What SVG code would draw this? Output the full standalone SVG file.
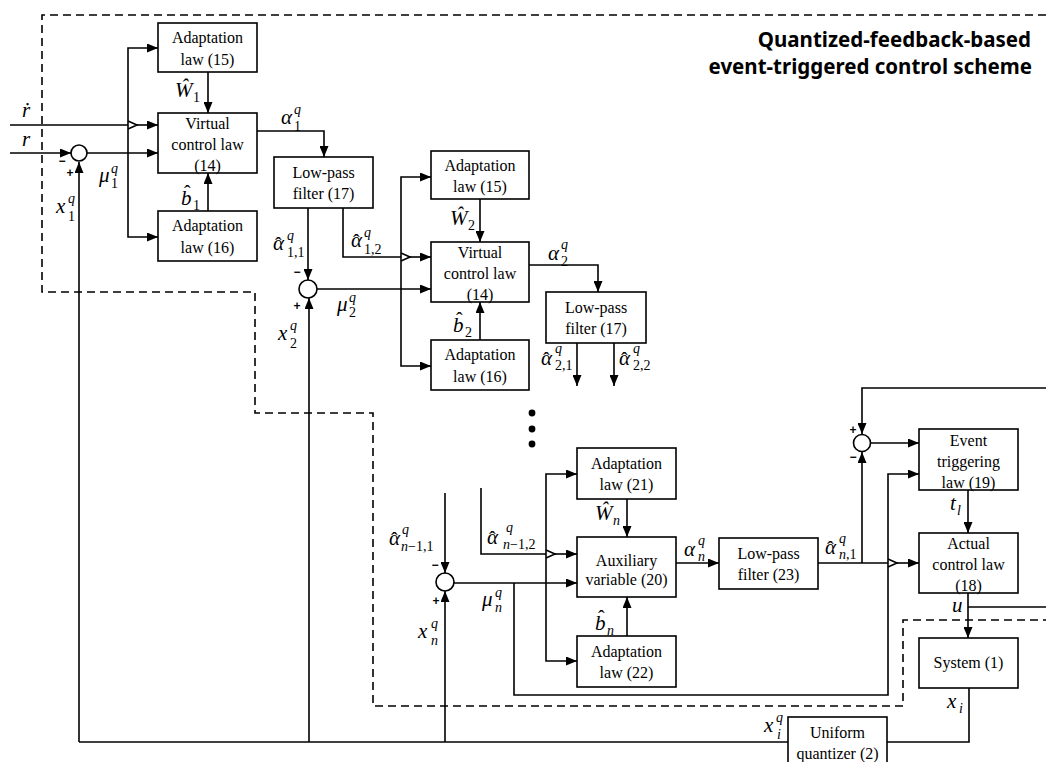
<svg xmlns="http://www.w3.org/2000/svg" width="1046" height="762" viewBox="0 0 1046 762">
<style>
.box{fill:#fff;stroke:#000;stroke-width:1.6}
.bt{font-family:"Liberation Serif","Times New Roman",serif;font-size:16px;text-anchor:middle;fill:#000}
.ln{fill:none;stroke:#000;stroke-width:1.6}
.dash{fill:none;stroke:#000;stroke-width:1.6;stroke-dasharray:8 5}
.sum{fill:#fff;stroke:#000;stroke-width:1.6}
.m{font-family:"Liberation Serif","Times New Roman",serif;font-style:italic;font-size:21px;fill:#000}
.h{font-style:normal;font-size:20px}
.sp{font-style:italic;font-size:14px}
.sb{font-style:normal;font-size:14px}
.sbi{font-style:italic;font-size:14px}
.sg{font-family:"Liberation Sans",sans-serif;font-weight:bold;font-size:12px;text-anchor:middle;dominant-baseline:central;fill:#000}
.title{font-family:"Noto Sans","Open Sans",sans-serif;font-weight:bold;font-size:20.5px;text-anchor:end;fill:#000}
</style>
<defs>
<marker id="ar" markerUnits="userSpaceOnUse" markerWidth="11" markerHeight="9" refX="11" refY="4.5" orient="auto">
<path d="M0,0 L11,4.5 L0,9 z" fill="#000"/>
</marker>
</defs>
<rect width="1046" height="762" fill="#fff"/>

<path id="boundary" class="dash" d="M1046,15 H42 V292 H255 V413 H373 V706 H903 V620 H1046"/>

<g id="title">
<text class="title" x="1031" y="47">Quantized-feedback-based</text>
<text class="title" x="1032" y="74">event-triggered control scheme</text>
</g>

<g id="connectors">
<path class="ln" d="M10,125 H128 M128,121 L137,125 L128,129"/>
<path class="ln" d="M137,125 H158" marker-end="url(#ar)"/>
<path class="ln" d="M10,153 H71" marker-end="url(#ar)"/>
<path class="ln" d="M87,153 H158" marker-end="url(#ar)"/>
<path class="ln" d="M128,153 V48 H158" marker-end="url(#ar)"/>
<path class="ln" d="M128,153 V237 H158" marker-end="url(#ar)"/>
<path class="ln" d="M208,72 V113" marker-end="url(#ar)"/>
<path class="ln" d="M208,211 V173" marker-end="url(#ar)"/>
<path class="ln" d="M257,131 H324 V157" marker-end="url(#ar)"/>
<path class="ln" d="M79,742 V162" marker-end="url(#ar)"/>
<path class="ln" d="M308,208 V280" marker-end="url(#ar)"/>
<path class="ln" d="M343,208 V257 H401 M401,253 L410,257 L401,261"/>
<path class="ln" d="M410,257 H431" marker-end="url(#ar)"/>
<path class="ln" d="M317,289 H431" marker-end="url(#ar)"/>
<path class="ln" d="M401,289 V177 H431" marker-end="url(#ar)"/>
<path class="ln" d="M401,289 V366 H431" marker-end="url(#ar)"/>
<path class="ln" d="M480,199 V242" marker-end="url(#ar)"/>
<path class="ln" d="M480,340 V302" marker-end="url(#ar)"/>
<path class="ln" d="M529,265 H598 V292" marker-end="url(#ar)"/>
<path class="ln" d="M577,343 V386" marker-end="url(#ar)"/>
<path class="ln" d="M614,343 V386" marker-end="url(#ar)"/>
<path class="ln" d="M309,742 V298" marker-end="url(#ar)"/>
<path class="ln" d="M445,493 V573" marker-end="url(#ar)"/>
<path class="ln" d="M445,742 V591" marker-end="url(#ar)"/>
<path class="ln" d="M481,488 V554 H546 M546,550 L555,554 L546,558"/>
<path class="ln" d="M555,554 H577" marker-end="url(#ar)"/>
<path class="ln" d="M454,583 H577" marker-end="url(#ar)"/>
<path class="ln" d="M546,583 V474 H577" marker-end="url(#ar)"/>
<path class="ln" d="M546,583 V661 H577" marker-end="url(#ar)"/>
<path class="ln" d="M627,499 V537" marker-end="url(#ar)"/>
<path class="ln" d="M627,636 V597" marker-end="url(#ar)"/>
<path class="ln" d="M676,563 H719" marker-end="url(#ar)"/>
<path class="ln" d="M818,563 H888 M888,559 L897,563 L888,567"/>
<path class="ln" d="M897,563 H919" marker-end="url(#ar)"/>
<path class="ln" d="M862,563 V452" marker-end="url(#ar)"/>
<path class="ln" d="M1046,388 H862 V434" marker-end="url(#ar)"/>
<path class="ln" d="M871,443 H919" marker-end="url(#ar)"/>
<path class="ln" d="M514,583 V695 H888 V474 H919" marker-end="url(#ar)"/>
<path class="ln" d="M968,490 V533" marker-end="url(#ar)"/>
<path class="ln" d="M968,593 V638" marker-end="url(#ar)"/>
<path class="ln" d="M968,607 H1046"/>
<path class="ln" d="M969,688 V742 H887"/>
<path class="ln" d="M788,742 H79"/>
<circle cx="532" cy="413" r="3.4" fill="#000"/>
<circle cx="532" cy="429" r="3.4" fill="#000"/>
<circle cx="532" cy="444" r="3.4" fill="#000"/>
</g>

<g id="sum1"><circle class="sum" cx="79" cy="153" r="8"/><text class="sg" x="62" y="161">−</text><text class="sg" x="70" y="173">+</text></g>
<g id="sum2"><circle class="sum" cx="308" cy="289" r="9"/><text class="sg" x="297" y="272">−</text><text class="sg" x="297" y="306">+</text></g>
<g id="sumn"><circle class="sum" cx="445" cy="582" r="9"/><text class="sg" x="435" y="565">−</text><text class="sg" x="436" y="601">+</text></g>
<g id="sum3"><circle class="sum" cx="862" cy="443" r="8.5"/><text class="sg" x="853" y="430">+</text><text class="sg" x="853" y="457">−</text></g>

<g id="adapt15a"><rect class="box" x="158" y="23" width="99" height="49"/><text class="bt" x="207.5" y="43">Adaptation</text><text class="bt" x="207.5" y="65">law (15)</text></g>
<g id="vcl1"><rect class="box" x="158" y="113" width="99" height="60"/><text class="bt" x="207.5" y="129">Virtual</text><text class="bt" x="207.5" y="150">control law</text><text class="bt" x="207.5" y="171">(14)</text></g>
<g id="adapt16a"><rect class="box" x="158" y="211" width="99" height="50"/><text class="bt" x="207.5" y="231">Adaptation</text><text class="bt" x="207.5" y="253">law (16)</text></g>
<g id="lpf1"><rect class="box" x="274" y="157" width="99" height="51"/><text class="bt" x="323.5" y="178">Low-pass</text><text class="bt" x="323.5" y="199">filter (17)</text></g>

<g id="adapt15b"><rect class="box" x="431" y="151" width="98" height="48"/><text class="bt" x="480" y="171">Adaptation</text><text class="bt" x="480" y="192">law (15)</text></g>
<g id="vcl2"><rect class="box" x="431" y="242" width="98" height="60"/><text class="bt" x="480" y="258">Virtual</text><text class="bt" x="480" y="279">control law</text><text class="bt" x="480" y="300">(14)</text></g>
<g id="adapt16b"><rect class="box" x="431" y="340" width="98" height="50"/><text class="bt" x="480" y="360">Adaptation</text><text class="bt" x="480" y="382">law (16)</text></g>
<g id="lpf2"><rect class="box" x="546" y="292" width="100" height="51"/><text class="bt" x="596" y="313">Low-pass</text><text class="bt" x="596" y="334">filter (17)</text></g>

<g id="adapt21"><rect class="box" x="577" y="448" width="99" height="51"/><text class="bt" x="626.5" y="469">Adaptation</text><text class="bt" x="626.5" y="490">law (21)</text></g>
<g id="aux20"><rect class="box" x="577" y="537" width="99" height="60"/><text class="bt" x="626.5" y="566">Auxiliary</text><text class="bt" x="626.5" y="585">variable (20)</text></g>
<g id="adapt22"><rect class="box" x="577" y="636" width="99" height="51"/><text class="bt" x="626.5" y="657">Adaptation</text><text class="bt" x="626.5" y="678">law (22)</text></g>
<g id="lpf23"><rect class="box" x="719" y="538" width="99" height="51"/><text class="bt" x="768.5" y="559">Low-pass</text><text class="bt" x="768.5" y="580">filter (23)</text></g>
<g id="etl19"><rect class="box" x="919" y="429" width="99" height="61"/><text class="bt" x="968.5" y="446">Event</text><text class="bt" x="968.5" y="467">triggering</text><text class="bt" x="968.5" y="488">law (19)</text></g>
<g id="acl18"><rect class="box" x="919" y="533" width="99" height="60"/><text class="bt" x="968.5" y="549">Actual</text><text class="bt" x="968.5" y="570">control law</text><text class="bt" x="968.5" y="591">(18)</text></g>
<g id="sys1"><rect class="box" x="919" y="638" width="99" height="50"/><text class="bt" x="968.5" y="668">System (1)</text></g>
<g id="uq2"><rect class="box" x="788" y="717" width="99" height="60"/><text class="bt" x="837.5" y="738">Uniform</text><text class="bt" x="837.5" y="759">quantizer (2)</text></g>

<g id="labels">
<text class="m" x="22" y="117">ṙ</text>
<text class="m" x="22" y="146">r</text>
<text class="m" x="175" y="97">Ŵ<tspan class="sb" x="193" y="102">1</tspan></text>
<text class="m" x="281" y="124">α<tspan class="sp" x="294" y="114">q</tspan><tspan class="sb" x="294" y="131">1</tspan></text>
<text class="m" x="99" y="182">μ<tspan class="sp" x="111" y="173">q</tspan><tspan class="sb" x="111" y="188">1</tspan></text>
<text class="m" x="56" y="213">x<tspan class="sp" x="68" y="203">q</tspan><tspan class="sb" x="68" y="221">1</tspan></text>
<text class="m" x="181" y="205">b<tspan class="h" x="184" y="200">ˆ</tspan><tspan class="sb" x="193" y="210">1</tspan></text>
<text class="m" x="273" y="250">α<tspan class="h" x="275" y="252">ˆ</tspan><tspan class="sp" x="287" y="240">q</tspan><tspan class="sb" x="287" y="257">1,1</tspan></text>
<text class="m" x="351" y="247">α<tspan class="h" x="353" y="249">ˆ</tspan><tspan class="sp" x="364" y="237">q</tspan><tspan class="sb" x="364" y="254">1,2</tspan></text>
<text class="m" x="337" y="311">μ<tspan class="sp" x="349" y="302">q</tspan><tspan class="sb" x="349" y="317">2</tspan></text>
<text class="m" x="278" y="340">x<tspan class="sp" x="290" y="330">q</tspan><tspan class="sb" x="290" y="348">2</tspan></text>
<text class="m" x="450" y="225">Ŵ<tspan class="sb" x="468" y="230">2</tspan></text>
<text class="m" x="548" y="260">α<tspan class="sp" x="561" y="249">q</tspan><tspan class="sb" x="561" y="266">2</tspan></text>
<text class="m" x="453" y="332">b<tspan class="h" x="456" y="327">ˆ</tspan><tspan class="sb" x="465" y="337">2</tspan></text>
<text class="m" x="541" y="365">α<tspan class="h" x="543" y="367">ˆ</tspan><tspan class="sp" x="555" y="353">q</tspan><tspan class="sb" x="555" y="370">2,1</tspan></text>
<text class="m" x="619" y="365">α<tspan class="h" x="621" y="367">ˆ</tspan><tspan class="sp" x="633" y="353">q</tspan><tspan class="sb" x="633" y="370">2,2</tspan></text>
<text class="m" x="595" y="520">Ŵ<tspan class="sbi" x="613" y="525">n</tspan></text>
<text class="m" x="487" y="544">α<tspan class="h" x="489" y="546">ˆ</tspan><tspan class="sp" x="506" y="532">q</tspan><tspan class="sb" x="503" y="549"><tspan class="sbi">n</tspan>−1,2</tspan></text>
<text class="m" x="389" y="545">α<tspan class="h" x="391" y="547">ˆ</tspan><tspan class="sp" x="402" y="534">q</tspan><tspan class="sb" x="401" y="551"><tspan class="sbi">n</tspan>−1,1</tspan></text>
<text class="m" x="684" y="556">α<tspan class="sp" x="698" y="545">q</tspan><tspan class="sbi" x="698" y="561">n</tspan></text>
<text class="m" x="825" y="554">α<tspan class="h" x="827" y="556">ˆ</tspan><tspan class="sp" x="839" y="543">q</tspan><tspan class="sb" x="839" y="559"><tspan class="sbi">n</tspan>,1</tspan></text>
<text class="m" x="482" y="606">μ<tspan class="sp" x="495" y="597">q</tspan><tspan class="sbi" x="495" y="612">n</tspan></text>
<text class="m" x="418" y="638">x<tspan class="sp" x="431" y="628">q</tspan><tspan class="sbi" x="431" y="645">n</tspan></text>
<text class="m" x="595" y="630">b<tspan class="h" x="598" y="625">ˆ</tspan><tspan class="sbi" x="607" y="635">n</tspan></text>
<text class="m" x="950" y="510">t<tspan class="sbi" x="957" y="515">l</tspan></text>
<text class="m" x="952" y="612">u</text>
<text class="m" x="947" y="708">x<tspan class="sbi" x="959" y="713">i</tspan></text>
<text class="m" x="764" y="732">x<tspan class="sp" x="776" y="722">q</tspan><tspan class="sbi" x="777" y="739">i</tspan></text>
</g>
</svg>
